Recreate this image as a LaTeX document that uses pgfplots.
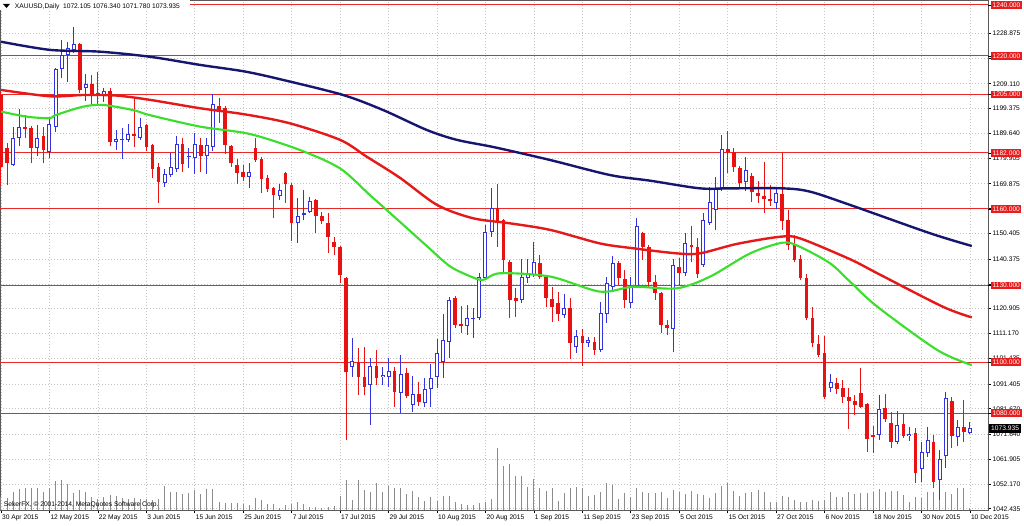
\documentclass[border=0pt]{standalone}
\usepackage{pgfplots}
\pgfplotsset{compat=1.18}
\usepackage{pgfplotstable}
\usepackage{fontspec}
\setmainfont{Liberation Sans}
\definecolor{bull}{RGB}{50,50,225}
\definecolor{bear}{RGB}{232,18,18}
\definecolor{maA}{RGB}{22,22,112}
\definecolor{maB}{RGB}{228,25,25}
\definecolor{maC}{RGB}{60,222,45}
\definecolor{hline}{RGB}{235,40,40}
\definecolor{lblred}{RGB}{232,28,28}
\definecolor{gridc}{RGB}{195,195,195}
\definecolor{volc}{RGB}{140,140,140}

\pgfplotstableread{
i o h l c v
0 1204.7 1205.9 1169.4 1176.5 40
1 1183.9 1185.9 1169.4 1178.0 35
2 1177.3 1192.2 1176.9 1187.8 55
3 1187.8 1199.2 1184.7 1192.2 62
4 1192.2 1196.9 1187.8 1191.4 65
5 1191.8 1192.6 1178.0 1183.9 65
6 1183.9 1192.9 1180.8 1187.8 65
7 1188.6 1192.2 1178.0 1183.1 55
8 1182.4 1196.1 1180.0 1193.3 67
9 1192.2 1215.3 1190.2 1214.9 88
10 1214.9 1226.3 1211.4 1220.4 90
11 1220.4 1225.5 1209.8 1223.1 77
12 1222.4 1231.4 1221.2 1224.7 52
13 1224.7 1225.1 1205.5 1206.7 60
14 1207.5 1212.9 1202.4 1209.0 55
15 1209.0 1212.6 1200.4 1205.1 40
16 1205.5 1213.7 1200.8 1204.7 32
17 1204.7 1207.5 1202.0 1206.3 40
18 1206.3 1207.5 1184.7 1186.3 45
19 1186.3 1191.0 1183.1 1187.5 42
20 1187.1 1191.8 1179.6 1187.5 35
21 1187.1 1193.3 1186.3 1189.4 32
22 1189.4 1203.1 1184.3 1188.6 35
23 1187.8 1195.7 1187.1 1192.2 32
24 1192.9 1193.3 1182.7 1184.3 32
25 1185.1 1185.5 1172.2 1175.7 30
26 1176.5 1178.0 1162.4 1170.6 32
27 1170.2 1175.7 1168.6 1173.7 73
28 1173.3 1182.0 1172.6 1176.5 53
29 1175.7 1188.6 1174.5 1185.5 53
30 1185.5 1187.8 1174.5 1177.7 47
31 1180.4 1183.9 1176.1 1180.8 52
32 1180.0 1189.8 1173.7 1185.5 60
33 1185.1 1187.8 1174.5 1180.8 47
34 1180.8 1187.8 1173.7 1185.1 62
35 1184.3 1205.1 1182.7 1201.2 62
36 1200.4 1203.5 1193.7 1198.8 25
37 1199.6 1200.4 1181.6 1185.1 22
38 1184.7 1185.1 1176.5 1178.0 22
39 1177.3 1179.6 1169.8 1174.1 22
40 1174.5 1177.3 1171.0 1172.6 18
41 1172.6 1178.0 1168.2 1174.5 15
42 1183.9 1187.8 1178.4 1179.2 37
43 1179.6 1180.4 1166.3 1171.8 30
44 1172.2 1173.3 1166.7 1167.8 17
45 1168.2 1168.6 1156.5 1165.5 17
46 1165.1 1169.8 1163.5 1167.5 5
47 1174.1 1174.5 1162.4 1169.8 15
48 1169.4 1170.2 1147.5 1154.5 17
49 1154.5 1164.3 1146.7 1157.3 23
50 1158.0 1167.5 1155.7 1158.4 18
51 1158.8 1164.7 1158.4 1163.1 10
52 1163.5 1163.9 1150.6 1157.3 8
53 1157.3 1158.8 1154.1 1155.3 7
54 1154.5 1158.4 1142.7 1149.0 10
55 1147.1 1149.0 1142.0 1145.1 12
56 1145.1 1145.5 1131.0 1134.1 42
57 1132.9 1133.3 1069.4 1096.1 90
58 1098.0 1109.4 1094.1 1100.4 30
59 1100.0 1105.5 1087.1 1094.1 90
60 1094.1 1105.9 1087.1 1090.2 60
61 1091.0 1101.6 1075.3 1098.4 55
62 1098.4 1104.7 1091.0 1093.7 82
63 1094.1 1098.0 1091.0 1094.9 53
64 1094.1 1101.6 1090.2 1096.5 73
65 1096.5 1098.0 1082.4 1088.2 65
66 1087.8 1102.7 1080.0 1095.3 65
67 1095.7 1097.6 1085.9 1086.7 47
68 1083.1 1094.5 1080.4 1087.5 58
69 1087.5 1092.2 1082.7 1084.3 38
70 1083.9 1093.7 1082.4 1089.4 28
71 1089.4 1099.2 1082.4 1093.7 38
72 1094.1 1109.0 1089.8 1103.5 28
73 1100.0 1118.8 1093.7 1108.6 42
74 1107.8 1125.5 1101.6 1124.3 42
75 1125.1 1125.9 1113.3 1114.5 25
76 1114.9 1122.0 1111.4 1114.1 18
77 1114.1 1122.4 1110.6 1117.3 15
78 1116.9 1121.2 1109.4 1117.3 15
79 1117.3 1134.9 1116.5 1133.3 22
80 1132.9 1153.7 1132.2 1151.0 25
81 1151.0 1168.2 1149.0 1160.4 32
82 1160.4 1169.8 1145.1 1154.9 185
83 1155.7 1156.1 1135.3 1140.0 132
84 1139.2 1140.0 1117.3 1124.3 138
85 1125.1 1129.0 1117.6 1123.9 102
86 1124.3 1140.4 1123.1 1133.3 102
87 1132.9 1140.4 1131.0 1134.5 70
88 1134.1 1147.1 1133.3 1139.2 93
89 1138.8 1142.0 1132.6 1133.3 65
90 1133.3 1133.7 1121.6 1125.1 58
91 1124.7 1129.4 1115.7 1121.6 65
92 1123.1 1127.5 1116.1 1118.8 27
93 1118.4 1126.7 1117.3 1121.2 52
94 1121.2 1125.1 1101.2 1107.5 65
95 1105.9 1112.6 1103.5 1110.2 70
96 1110.2 1112.9 1098.4 1107.5 65
97 1107.5 1109.8 1105.9 1108.6 43
98 1107.8 1109.8 1102.7 1104.7 45
99 1104.7 1123.5 1103.9 1119.2 53
100 1118.8 1133.3 1115.3 1131.0 82
101 1129.4 1141.6 1128.2 1138.8 75
102 1138.8 1139.6 1130.2 1132.9 33
103 1132.6 1136.1 1121.2 1124.3 50
104 1123.1 1133.3 1121.2 1129.8 40
105 1129.8 1156.5 1129.0 1153.3 65
106 1150.6 1151.0 1140.0 1145.1 55
107 1145.1 1145.9 1129.4 1131.4 50
108 1131.4 1134.1 1124.3 1127.1 50
109 1127.1 1127.5 1111.4 1114.5 55
110 1114.5 1116.5 1110.6 1113.3 37
111 1112.9 1140.4 1103.9 1138.0 60
112 1137.3 1140.8 1130.2 1134.9 53
113 1134.9 1150.6 1133.7 1146.7 48
114 1145.9 1153.3 1139.2 1145.1 57
115 1145.1 1148.6 1132.9 1134.5 48
116 1138.0 1158.4 1137.3 1155.7 45
117 1154.5 1168.6 1153.7 1162.7 35
118 1159.6 1172.6 1151.8 1168.2 50
119 1168.2 1189.0 1167.1 1183.5 73
120 1183.5 1190.6 1174.1 1182.4 80
121 1182.4 1183.9 1174.5 1176.5 57
122 1176.1 1176.9 1168.6 1170.2 42
123 1170.6 1180.4 1167.1 1175.3 50
124 1172.9 1174.1 1162.7 1166.7 53
125 1166.3 1171.0 1162.4 1165.1 60
126 1165.1 1178.4 1158.4 1163.9 53
127 1163.9 1169.4 1161.2 1163.1 25
128 1162.4 1167.8 1160.0 1166.3 25
129 1165.9 1182.4 1151.8 1155.3 42
130 1155.7 1159.6 1143.9 1145.9 38
131 1146.3 1149.8 1139.2 1140.0 30
132 1140.4 1142.0 1132.2 1132.9 23
133 1132.9 1134.5 1116.5 1117.3 23
134 1117.3 1121.6 1105.9 1107.5 30
135 1107.1 1110.6 1102.0 1102.7 28
136 1103.5 1110.2 1085.5 1086.3 30
137 1089.8 1095.3 1088.2 1092.2 55
138 1091.8 1093.7 1087.5 1089.4 40
139 1089.8 1092.9 1083.9 1086.3 38
140 1086.3 1089.8 1073.7 1084.7 53
141 1084.7 1087.1 1079.2 1083.1 48
142 1087.8 1097.6 1082.0 1082.4 52
143 1083.5 1083.9 1064.7 1069.8 50
144 1071.4 1074.9 1064.3 1070.6 55
145 1071.4 1087.1 1069.4 1081.6 62
146 1082.0 1087.5 1076.5 1077.7 55
147 1076.1 1080.4 1066.3 1068.6 58
148 1068.6 1080.8 1067.8 1075.3 58
149 1075.7 1080.0 1070.2 1071.0 45
150 1071.0 1074.5 1069.0 1071.8 23
151 1072.2 1074.1 1052.6 1056.5 38
152 1058.0 1068.6 1052.9 1064.7 37
153 1064.3 1074.5 1062.7 1069.4 55
154 1068.6 1071.4 1050.6 1052.9 55
155 1053.7 1065.5 1045.9 1062.0 90
156 1063.1 1088.2 1058.4 1085.9 55
157 1084.7 1086.3 1066.3 1071.0 47
158 1070.6 1077.3 1067.1 1074.5 65
159 1074.5 1085.1 1068.6 1072.6 67
160 1072.105 1076.34 1071.78 1073.935 7
}\ohlc

% 200-day MA (navy)
\pgfplotstableread{
x y
0 1225.6
8.1 1222.4
16.3 1221.7
24.6 1219.7
32.9 1216.5
40.3 1213.9
46.6 1210.6
56.5 1204.7
63.1 1198.8
70.3 1191.0
75.3 1187.1
81.5 1184.2
90.7 1179.2
100.6 1173.3
107.2 1171.1
115.4 1168.1
120.4 1168.1
129.1 1168.1
133.6 1166.8
140.2 1161.6
153.4 1150.5
160.3 1145.5
}\maAtab

% 100-day MA (red)
\pgfplotstableread{
x y
0 1206.7
8.1 1204.2
13.5 1204.7
19.0 1204.5
24.6 1202.8
32.9 1199.5
40.3 1197.1
47.7 1193.6
56.0 1187.1
60.4 1180.5
65.9 1172.2
72.0 1161.6
77.9 1156.4
84.0 1154.4
90.7 1151.8
98.9 1146.5
104.4 1144.6
111.6 1142.6
115.4 1142.6
121.5 1146.3
128.6 1149.1
131.9 1148.5
140.2 1140.3
144.7 1134.8
155.5 1121.7
160.3 1117.5
}\maBtab

% 50-day MA (green)
\pgfplotstableread{
x y
0 1198.2
4.3 1196.2
8.1 1195.6
9.0 1196.8
13.5 1200.1
16.8 1200.8
21.8 1198.8
24.6 1196.8
32.9 1192.3
41.1 1189.4
49.4 1183.1
56.0 1175.9
60.9 1165.5
65.9 1154.9
70.3 1145.5
74.1 1137.6
77.4 1133.7
79.6 1132.2
82.4 1134.8
90.7 1133.5
98.9 1127.6
104.4 1129.5
111.6 1128.9
117.1 1133.5
123.7 1142.6
129.1 1146.8
131.9 1145.2
136.9 1138.7
140.2 1131.5
144.7 1121.7
154.6 1104.7
160.3 1098.8
}\maCtab

% horizontal levels
\pgfplotstableread{
x y
-1 1240
170 1240
nan nan
-1 1220
170 1220
nan nan
-1 1205
170 1205
nan nan
-1 1182
170 1182
nan nan
-1 1160
170 1160
nan nan
-1 1130
170 1130
nan nan
-1 1100
170 1100
nan nan
-1 1080
170 1080
}\levels

\pgfplotsset{candle/.style={only marks, mark=*, mark size=0pt, mark options={draw=none,fill=none},
  error bars/.cd, y dir=both, y explicit, error mark=none}}

\begin{document}
\begin{tikzpicture}
\path[use as bounding box] (0pt,-11.25pt) rectangle (768pt,382.5pt);
\begin{axis}[
  at={(0pt,0pt)}, anchor=south west,
  scale only axis, width=741pt, height=382.5pt,
  xmin=-0.165, xmax=162.98, ymin=1041.961, ymax=1241.961,
  clip mode=individual,
  axis line style={draw=gray!70!black, line width=0.6pt},
  tick label style={font=\fontsize{5}{6}\selectfont, text=black},
  tick align=outside, major tick length=2.25pt,
  tick style={black, line width=0.5pt},
  xtick pos=bottom, ytick pos=right, yticklabel pos=right,
  xtick={0,8,...,160},
  xticklabels={30 Apr 2015,12 May 2015,22 May 2015,3 Jun 2015,15 Jun 2015,25 Jun 2015,7 Jul 2015,17 Jul 2015,29 Jul 2015,10 Aug 2015,20 Aug 2015,1 Sep 2015,11 Sep 2015,23 Sep 2015,5 Oct 2015,15 Oct 2015,27 Oct 2015,6 Nov 2015,18 Nov 2015,30 Nov 2015,10 Dec 2015},
  xticklabel style={anchor=north west, inner sep=0.6pt, yshift=-0.6pt},
  ytick={1042.435,1052.17,1061.905,1071.64,1081.67,1091.405,1101.435,1111.17,1120.905,1130.64,1140.375,1150.405,1160.14,1169.875,1179.905,1189.64,1199.375,1209.11,1219.14,1228.875},
  yticklabels={1042.435,1052.170,1061.905,1071.640,1081.670,1091.405,1101.435,1111.170,1120.905,{},1140.375,1150.405,{},1169.875,1179.905,1189.640,1199.375,1209.110,{},1228.875},
  yticklabel style={anchor=west, inner sep=1pt},
  grid=major,
  major grid style={draw=gridc, dash pattern=on 0.75pt off 1.5pt, line width=0.5pt},
  extra y ticks={1240,1220,1205,1182,1160,1130,1100,1080},
  extra y tick labels={1240.000,1220.000,1205.000,1182.000,1160.000,1130.000,1100.000,1080.000},
  extra y tick style={grid=none,
    tick label style={fill=lblred, text=white, text height=3.6pt, text depth=0pt, inner ysep=1.9pt, inner xsep=1.6pt}},
  unbounded coords=jump,
]
% volume
\addplot[candle, error bar style={draw=volc, solid, line width=0.75pt}]
  table[x=i, y expr={1041.961+\thisrow{v}/15.3}, y error expr={\thisrow{v}/15.3}] {\ohlc};
% horizontal levels
\addplot[draw=hline, line width=0.75pt, mark=none] table[x=x,y=y] {\levels};
% wicks bullish
\addplot[restrict y to domain=1000:1300, candle, error bar style={draw=bull, solid, line width=0.75pt}]
  table[x=i, y expr={\thisrow{c}>\thisrow{o} ? (\thisrow{h}+\thisrow{l})/2 : 0}, y error expr={(\thisrow{h}-\thisrow{l})/2}] {\ohlc};
% wicks bearish
\addplot[restrict y to domain=1000:1300, candle, error bar style={draw=bear, solid, line width=0.75pt}]
  table[x=i, y expr={\thisrow{c}>\thisrow{o} ? 0 : (\thisrow{h}+\thisrow{l})/2}, y error expr={(\thisrow{h}-\thisrow{l})/2}] {\ohlc};
% bodies bearish
\addplot[restrict y to domain=1000:1300, candle, error bar style={draw=bear, solid, line width=2.7pt}]
  table[x=i, y expr={\thisrow{c}>\thisrow{o} ? 0 : (\thisrow{o}+\thisrow{c})/2}, y error expr={max(abs(\thisrow{o}-\thisrow{c})/2,0.2)}] {\ohlc};
% bodies bullish outline
\addplot[restrict y to domain=1000:1300, candle, error bar style={draw=bull, solid, line width=3pt}]
  table[x=i, y expr={\thisrow{c}>\thisrow{o} ? (\thisrow{o}+\thisrow{c})/2 : 0}, y error expr={max(abs(\thisrow{o}-\thisrow{c})/2,0.2)}] {\ohlc};
% bodies bullish interior
\addplot[restrict y to domain=1000:1300, candle, error bar style={draw=white, solid, line width=1.5pt}]
  table[x=i, y expr={\thisrow{c}>\thisrow{o} ? (\thisrow{o}+\thisrow{c})/2 : 0}, y error expr={max(abs(\thisrow{o}-\thisrow{c})/2-0.39,0)}] {\ohlc};
% moving averages
\addplot[maA, line width=1.8pt, smooth, mark=none] table[x=x,y=y] {\maAtab};
\addplot[maB, line width=1.8pt, smooth, mark=none] table[x=x,y=y] {\maBtab};
\addplot[maC, line width=1.6pt, smooth, mark=none] table[x=x,y=y] {\maCtab};
% annotations
\fill[white] (rel axis cs:0,1) rectangle (rel axis cs:0.1923,0.9804);
\fill[black] (rel axis cs:0.0030,0.9922) -- (rel axis cs:0.0101,0.9922) -- (rel axis cs:0.0066,0.9843) -- cycle;
\node[anchor=west, inner sep=0.5pt, font=\fontsize{5}{6}\selectfont] at (rel axis cs:0.0142,0.9863) {XAUUSD,Daily\ \ 1072.105 1076.340 1071.780 1073.935};
\node[anchor=west, inner sep=0.5pt, font=\fontsize{5}{6}\selectfont] at (rel axis cs:0.003,0.0098) {SekerFX, © 2001-2014, MetaQuotes Software Corp.};
\node[anchor=west, fill=black, text=white, font=\fontsize{5}{6}\selectfont, text height=3.6pt, text depth=0pt, inner ysep=1.9pt, inner xsep=1.6pt, xshift=0.6pt] at (axis cs:162.98,1073.935) {1073.935};
\end{axis}
\end{tikzpicture}
\end{document}
